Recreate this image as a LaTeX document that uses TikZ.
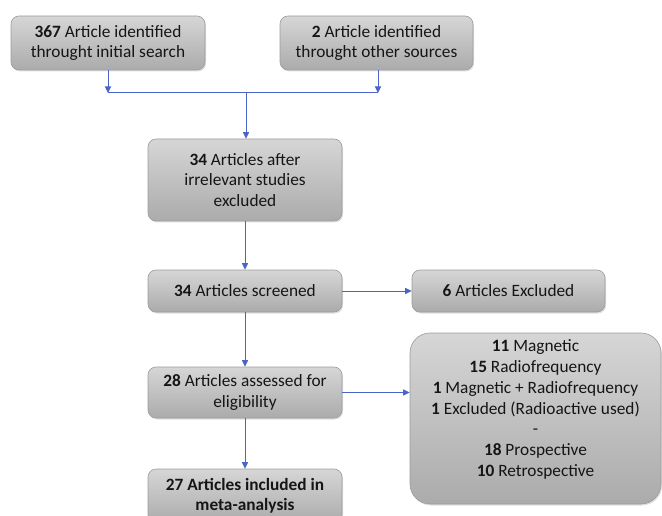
\documentclass[tikz,border=0pt]{standalone}
\usepackage{fontspec}
\setmainfont{Carlito}
\usetikzlibrary{arrows.meta,shadows}
\definecolor{boxtop}{HTML}{D6D6D6}
\definecolor{boxbot}{HTML}{ABABAB}
\definecolor{boxline}{HTML}{9C9C9C}
\definecolor{arrowblue}{HTML}{4A64C8}
\definecolor{txt}{HTML}{151515}
\tikzset{
  box/.style={rounded corners=8pt, top color=boxtop, bottom color=boxbot,
    draw=boxline, line width=0.6pt, inner sep=0pt, align=center,
    text=txt, font=\fontsize{17.3}{20.5}\selectfont,
    drop shadow={opacity=0.25, shadow xshift=1pt, shadow yshift=-1.5pt}},
  conn/.style={draw=arrowblue, line width=1pt},
  arr/.style={conn, -{Triangle[length=6.5pt,width=6pt]}},
  plain/.style={inner sep=0pt, align=center, text=txt,
    font=\fontsize{17.3}{20.8}\selectfont}
}
\begin{document}
\begin{tikzpicture}[x=1pt,y=-1pt]
\useasboundingbox (0,0) rectangle (662,516);
\clip (0,0) rectangle (662,516);
\node[box, minimum width=194pt, minimum height=54pt] (b1) at (108,43)
  {\textbf{367} Article identified\\throught initial search};
\node[box, minimum width=193pt, minimum height=54pt] (b2) at (376.5,43)
  {\textbf{2} Article identified\\throught other sources};
\node[box, minimum width=194pt, minimum height=82pt] (b3) at (245,180)
  {\textbf{34} Articles after\\irrelevant studies\\excluded};
\node[box, minimum width=194pt, minimum height=42pt] (b4) at (245,291)
  {\textbf{34} Articles screened};
\node[box, minimum width=193pt, minimum height=42pt] (b5) at (508.5,291)
  {\textbf{6} Articles Excluded};
\node[box, minimum width=194pt, minimum height=51pt] (b6) at (245,392.5)
  {\textbf{28} Articles assessed for\\eligibility};
\node[box, rounded corners=20pt, minimum width=251pt, minimum height=171pt] (b7) at (535.5,418.5) {};
\node[plain] (b7t) at (535.5,409.5)
  {\textbf{11} Magnetic\\\textbf{15} Radiofrequency\\\textbf{1} Magnetic + Radiofrequency\\\textbf{1} Excluded (Radioactive used)\\-\\\textbf{18} Prospective\\\textbf{10} Retrospective};
\node[box, minimum width=194pt, minimum height=54pt] (b8) at (245,496)
  {\textbf{27 Articles included in}\\\textbf{meta-analysis}};
\coordinate (jl) at (108,93);
\coordinate (jr) at (378,93);
\coordinate (jc) at (246,93);
\draw[arr] (b1.south) -- (jl);
\draw[arr] (b2.south -| jr) -- (jr);
\draw[conn] (jl) -- (jr);
\draw[arr] (jc) -- (b3.north -| jc);
\draw[arr] (b3.south) -- (b4.north);
\draw[arr] (b4.east) -- (b5.west);
\draw[arr] (b4.south) -- (b6.north);
\draw[arr] (b6.east) -- (b6.east -| b7.west);
\draw[arr] (b6.south) -- (b8.north);
\end{tikzpicture}
\end{document}
